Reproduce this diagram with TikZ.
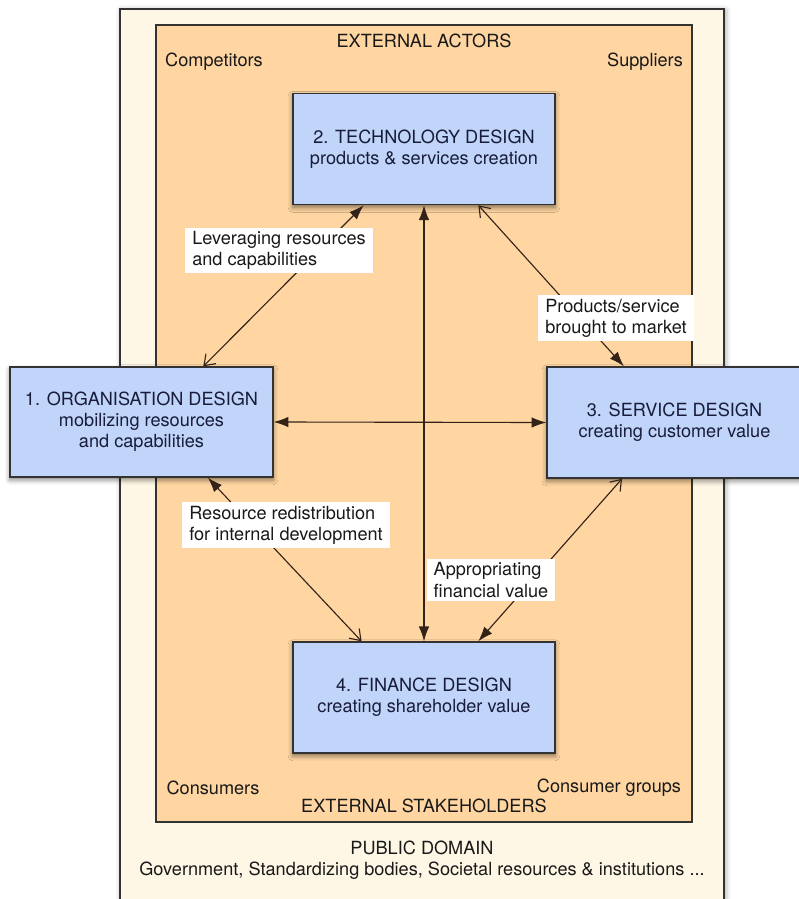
\documentclass[tikz,border=0pt]{standalone}
\usepackage{fontspec}
\setmainfont{TeX Gyre Heros}
\usetikzlibrary{arrows.meta,shadows.blur}

\definecolor{domaincream}{RGB}{255,247,229}
\definecolor{actorpeach}{RGB}{255,214,162}
\definecolor{designblue}{RGB}{192,213,249}
\definecolor{inkblue}{RGB}{24,28,58}
\definecolor{wirebrown}{RGB}{50,34,24}

\begin{document}
\begin{tikzpicture}[x=0.025cm, y=-0.025cm,
    font=\fontsize{12.9}{15}\selectfont,
    design/.style={draw=black!80, line width=0.9pt, fill=designblue, text=inkblue,
        align=center, minimum width=6.55cm, minimum height=2.78cm,
        blur shadow={shadow xshift=0pt, shadow yshift=-2pt, shadow blur radius=3.5pt, shadow opacity=50}},
    note/.style={fill=white, align=left, inner xsep=5pt, inner ysep=2.5pt, text=black!90},
    plain/.style={text=black!90, inner sep=1pt},
    wire/.style={draw=wirebrown, line width=0.8pt},
    both/.style={wire, {Latex[length=10.5pt,width=7.5pt]}-{Latex[length=10.5pt,width=7.5pt]}},
    openfill/.style={wire, {Straight Barb[length=7pt,width=10pt]}-{Latex[length=10.5pt,width=7.5pt]}},
    fillopen/.style={wire, {Latex[length=10.5pt,width=7.5pt]}-{Straight Barb[length=7pt,width=10pt]}}]
    \useasboundingbox (0,0) rectangle (798,899);

    % public domain and external actors
    \filldraw [fill=domaincream, draw=black!80, line width=0.8pt,
        blur shadow={shadow xshift=1pt, shadow yshift=-1pt, shadow blur radius=4pt}]
        (120,9) rectangle (724,905);
    \filldraw [fill=actorpeach, draw=black!80, line width=0.8pt] (156,25) rectangle (692,822);

    \node(actors) [plain] at (424,41) {EXTERNAL ACTORS};
    \node(competitors) [plain] at (214,62) {Competitors};
    \node(suppliers) [plain] at (645,62) {Suppliers};
    \node(consumers) [plain] at (213,788) {Consumers};
    \node(groups) [plain] at (609,788) {Consumer groups};
    \node(stakeholders) [plain] at (424,806) {EXTERNAL STAKEHOLDERS};
    \node(public) [plain, align=center] at (422,860)
        {PUBLIC DOMAIN\\Government, Standardizing bodies, Societal resources \& institutions ...};

    % design boxes
    \node(tech) [design] at (424,149)
        {2. TECHNOLOGY DESIGN\\products \& services creation};
    \node(org) [design, minimum width=6.575cm, minimum height=2.75cm] at (141.5,422)
        {1. ORGANISATION DESIGN\\mobilizing resources\\and capabilities};
    \node(service) [design, minimum width=6.375cm] at (674.5,422.5)
        {3. SERVICE DESIGN\\creating customer value};
    \node(finance) [design] at (424,697.5)
        {4. FINANCE DESIGN\\creating shareholder value};

    % connectors
    \draw [openfill] (org.42) to (tech.223);
    \draw [openfill] (tech.314) to (service.132);
    \draw [fillopen] (org.320) to (finance.138);
    \draw [openfill] (service.227) to (finance.46);
    \draw [both] (tech.south) to (finance.north);
    \draw [both] (org.east) to (service.west);

    % connector labels
    \node(leverage) [note] at (279,250.5) {Leveraging resources\\and capabilities};
    \node(market) [note] at (616,318) {Products/service\\brought to market};
    \node(redistrib) [note] at (286,525) {Resource redistribution\\for internal development};
    \node(appropriate) [note] at (491,580) {Appropriating\\financial value};

\end{tikzpicture}
\end{document}
